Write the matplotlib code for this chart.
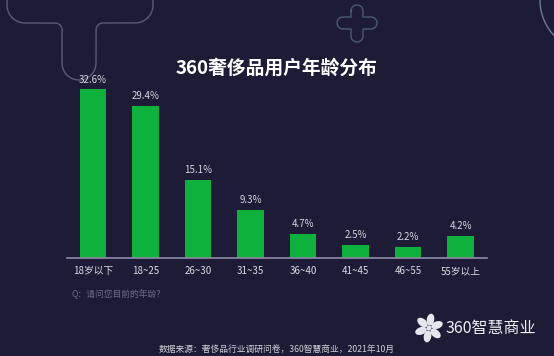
import numpy as np
import matplotlib
matplotlib.use("Agg")
import matplotlib.pyplot as plt
from matplotlib.patches import Ellipse

plt.rcParams['font.family'] = ['Noto Sans CJK SC', 'DejaVu Sans']

categories = ["18岁以下", "18~25", "26~30", "31~35", "36~40", "41~45", "46~55", "55岁以上"]
values = [32.6, 29.4, 15.1, 9.3, 4.7, 2.5, 2.2, 4.2]
labels = ["32.6%", "29.4%", "15.1%", "9.3%", "4.7%", "2.5%", "2.2%", "4.2%"]
title = "360奢侈品用户年龄分布"
question = "Q：请问您目前的年龄?"
source = "数据来源：奢侈品行业调研问卷，360智慧商业，2021年10月"
brand = "360智慧商业"

BG = "#1d1b36"
W, H = 554, 356
fig = plt.figure(figsize=(W / 100, H / 100), dpi=100, facecolor=BG)

# overlay axes in pixel coordinates (y down) for decorations
ov = fig.add_axes([0, 0, 1, 1], zorder=0)
ov.set_xlim(0, W)
ov.set_ylim(H, 0)
ov.axis('off')
ov.set_facecolor(BG)


def arc(cx, cy, r, a0, a1, n=30):
    t = np.radians(np.linspace(a0, a1, n))
    return cx + r * np.cos(t), cy + r * np.sin(t)


# T-shaped outline (y down)
xs, ys = [7], [-3]
for seg in [arc(25, 5, 18, 180, 90), arc(55, 30, 7, 270, 360),
            arc(79, 63, 17, 180, 0), arc(103, 30, 7, 180, 270),
            arc(135, 5, 18, 90, 0)]:
    xs.extend(seg[0]); ys.extend(seg[1])
xs.append(153); ys.append(-3)
ov.plot(xs, ys, color="#5b5a78", lw=1.0)

# plus outline
cx, cy, r = 357, 23, 6
px, py = [], []
for seg in [arc(cx, 11, r, 180, 360), ([cx + r, 371], [17, 17]),
            arc(371, cy, r, 270, 450), ([371, cx + r], [29, 29]),
            arc(cx, 36, r, 0, 180), ([cx - r, 343], [29, 29]),
            arc(343, cy, r, 90, 270), ([343, cx - r, cx - r], [17, 17, 11])]:
    px.extend(seg[0]); py.extend(seg[1])
ov.plot(px, py, color="#4a5a72", lw=1.0)

# circle arc on right
ax_, ay_ = arc(592, 0, 52, 90, 200, 60)
ov.plot(ax_, ay_, color="#6a7d95", lw=1.0)

# logo icon
icx, icy = 429, 328
for ang in [40, 100, 160, 220, 280, 340]:
    a = np.radians(ang)
    ov.add_patch(Ellipse((icx + 8.5 * np.cos(a), icy + 8.5 * np.sin(a)), 12, 7.5,
                         angle=ang, color="#e6e6ee", lw=0))
ov.add_patch(Ellipse((icx, icy), 5, 5, color="#e6e6ee", lw=0))
ov.text(446, 328, brand, color="#f0f0f5", fontsize=11.5, va='center', ha='left')

# main chart axes
ax = fig.add_axes([66.75 / W, (H - 258) / H, 420 / W, 181 / H], zorder=1)
ax.set_facecolor('none')
x = np.arange(len(categories))
ax.bar(x, values, width=0.5, color="#0db13c", zorder=2)
ax.set_xlim(-0.5, len(categories) - 0.5)
ax.set_ylim(0, 35)
for xi, v, lab in zip(x, values, labels):
    ax.annotate(lab, (xi, v), xytext=(0, 3.5), textcoords='offset points',
                ha='center', va='bottom', fontsize=7, color="#d6d6de",
                annotation_clip=False)
for s in ['top', 'right', 'left']:
    ax.spines[s].set_visible(False)
ax.spines['bottom'].set_color("#8d89a8")
ax.spines['bottom'].set_linewidth(1.2)
ax.set_yticks([])
ax.set_xticks(x)
ax.set_xticklabels(categories, fontsize=7, color="#dcdce4")
ax.tick_params(axis='x', length=0, pad=6)

fig.text(276 / W, 1 - 68 / H, title, ha='center', va='center', fontsize=13.5,
         fontweight='bold', color="white")
fig.text(72 / W, 1 - 294 / H, question, ha='left', va='center', fontsize=6.3,
         color="#6e6c86")
fig.text(277 / W, 1 - 349 / H, source, ha='center', va='center', fontsize=6.3,
         color="#cfcfd8")

fig.savefig("out.png", dpi=100, facecolor=BG)
